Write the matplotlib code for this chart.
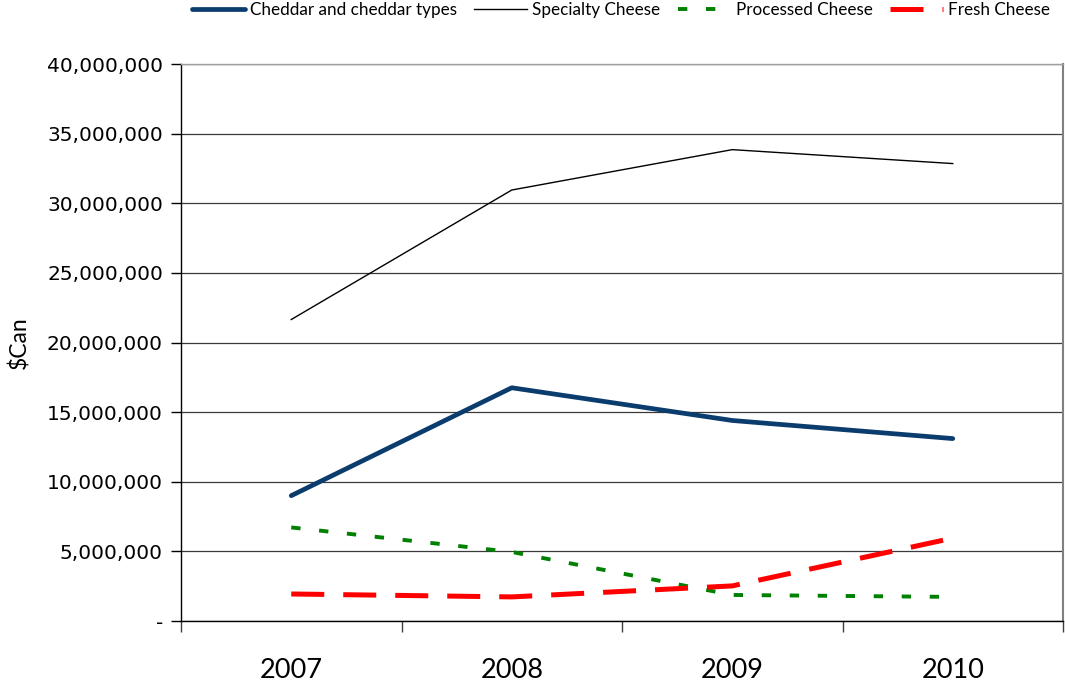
import matplotlib
matplotlib.use("Agg")
import matplotlib.pyplot as plt
from matplotlib.ticker import FuncFormatter, FixedLocator

years = ["2007", "2008", "2009", "2010"]
cheddar = [9.0e6, 16.75e6, 14.4e6, 13.1e6]
specialty = [21.65e6, 30.95e6, 33.85e6, 32.85e6]
processed = [6.72e6, 4.96e6, 1.87e6, 1.73e6]
fresh = [1.94e6, 1.73e6, 2.52e6, 5.95e6]
yticks = [0, 5e6, 10e6, 15e6, 20e6, 25e6, 30e6, 35e6, 40e6]

narrow = ["Lato", "DejaVu Sans"]

fig = plt.figure(figsize=(10.65, 6.85), dpi=100)
ax = fig.add_axes([181/1065, (685-621)/685, (1063-181)/1065, (621-64)/685])

x = list(range(len(years)))
ax.plot(x, cheddar, color="#0B3C6E", lw=3.4, solid_capstyle="round", label="Cheddar and cheddar types")
ax.plot(x, specialty, color="black", lw=1.0, label="Specialty Cheese")
ax.plot(x, processed, color="#008000", lw=2.8, linestyle=(0, (2.4, 4.8)), label="Processed Cheese")
ax.plot(x, fresh, color="#FF0000", lw=3.6, linestyle=(0, (6.6, 3.8)), label="Fresh Cheese")

ax.set_xlim(-0.5, 3.5)
ax.set_ylim(0, 40e6)
ax.set_yticks(yticks)
ax.yaxis.set_major_formatter(FuncFormatter(lambda v, p: "-" if v == 0 else f"{int(v):,}"))
ax.grid(axis="y", color="#3a3a3a", lw=0.9)
ax.set_axisbelow(True)

ax.set_xticks([-0.5, 0.5, 1.5, 2.5, 3.5])
ax.set_xticklabels([])
ax.xaxis.set_minor_locator(FixedLocator(x))
ax.set_xticklabels(years, minor=True)
ax.tick_params(axis="x", which="major", length=8, width=1, color="#404040", direction="out")
ax.tick_params(axis="x", which="minor", length=0, pad=27, labelsize=19.5)
for lab in ax.get_xticklabels(minor=True):
    lab.set_family(narrow)
ax.tick_params(axis="y", length=7, width=1, direction="out", labelsize=14.5, pad=6)

for s in ["left", "bottom"]:
    ax.spines[s].set_color("black")
    ax.spines[s].set_linewidth(1)
ax.spines["right"].set_color("#808080")
ax.spines["right"].set_linewidth(1.5)
ax.spines["top"].set_color("#a0a0a0")
ax.spines["top"].set_linewidth(1)

ax.set_ylabel("$Can", fontsize=16.5, family=narrow)
ax.yaxis.set_label_coords(-0.171, 0.5)

leg = fig.legend(loc="center", bbox_to_anchor=(0.583, 0.985), ncol=4, frameon=False,
                 prop={"family": narrow, "size": 12.3}, handlelength=3.1,
                 handletextpad=0.3, columnspacing=1.0, borderaxespad=0)

fig.savefig("out.png", dpi=100)
